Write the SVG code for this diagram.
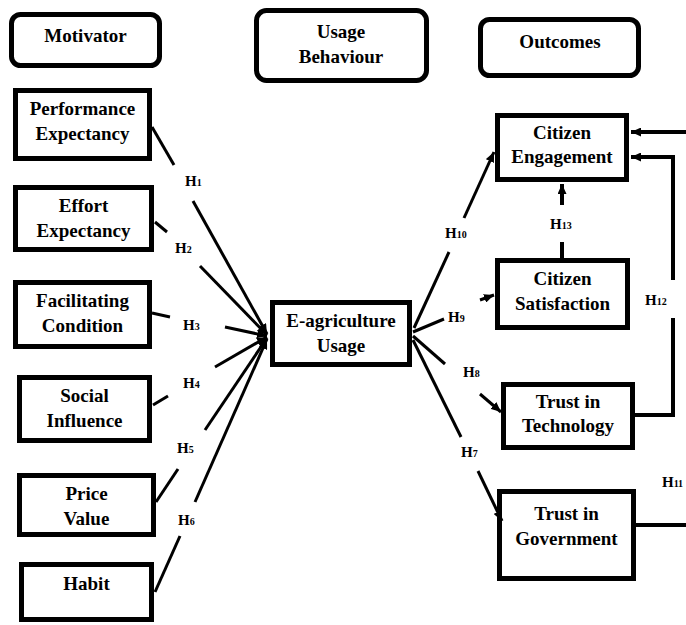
<svg xmlns="http://www.w3.org/2000/svg" width="686" height="625" viewBox="0 0 686 625">
<style>
.box{fill:#fff;stroke:#000;stroke-width:5}
.t{font-family:"Liberation Serif","Times New Roman",serif;font-weight:bold;font-size:19px;text-anchor:middle;fill:#000}
.h{font-family:"Liberation Serif","Times New Roman",serif;font-weight:bold;font-size:15px;fill:#000}
.s{font-size:10px}
.ln{stroke:#000;stroke-width:3;fill:none}
.lt{stroke:#000;stroke-width:4;fill:none}
</style>
<defs>
<marker id="ah" markerUnits="userSpaceOnUse" markerWidth="11" markerHeight="9" refX="10" refY="4.5" orient="auto">
<path d="M0,0 L10,4.5 L0,9 z" fill="#000"/>
</marker>
</defs>
<rect width="686" height="625" fill="#fff"/>

<g id="hdr-motivator"><rect class="box" x="11.5" y="14.5" width="148" height="51" rx="9"/><text class="t" x="85.5" y="42">Motivator</text></g>
<g id="hdr-usage"><rect class="box" x="256.5" y="10.5" width="170" height="70" rx="10"/><text class="t" x="341" y="38">Usage</text><text class="t" x="341" y="63">Behaviour</text></g>
<g id="hdr-outcomes"><rect class="box" x="480.5" y="19.5" width="158" height="56" rx="9"/><text class="t" x="560" y="48">Outcomes</text></g>

<g id="pe"><rect class="box" x="15.5" y="90.5" width="134" height="68"/><text class="t" x="82.5" y="115">Performance</text><text class="t" x="82.5" y="140">Expectancy</text></g>
<g id="ee"><rect class="box" x="15.5" y="187.5" width="136" height="62"/><text class="t" x="83.5" y="212">Effort</text><text class="t" x="83.5" y="237">Expectancy</text></g>
<g id="fc"><rect class="box" x="15.5" y="282.5" width="134" height="64"/><text class="t" x="82.5" y="307">Facilitating</text><text class="t" x="82.5" y="332">Condition</text></g>
<g id="si"><rect class="box" x="19.5" y="377.5" width="130" height="63"/><text class="t" x="84.5" y="402">Social</text><text class="t" x="84.5" y="427">Influence</text></g>
<g id="pv"><rect class="box" x="19.5" y="475.5" width="134" height="59"/><text class="t" x="86.5" y="500">Price</text><text class="t" x="86.5" y="525">Value</text></g>
<g id="habit"><rect class="box" x="21.5" y="564.5" width="130" height="55"/><text class="t" x="86.5" y="590">Habit</text></g>

<g id="eag"><rect class="box" x="272.5" y="302.5" width="137" height="62"/><text class="t" x="341" y="327">E-agriculture</text><text class="t" x="341" y="352">Usage</text></g>

<g id="ce"><rect class="box" x="497.5" y="115.5" width="129" height="64"/><text class="t" x="562" y="139">Citizen</text><text class="t" x="562" y="163">Engagement</text></g>
<g id="cs"><rect class="box" x="497.5" y="260.5" width="130" height="67"/><text class="t" x="562.5" y="285">Citizen</text><text class="t" x="562.5" y="310">Satisfaction</text></g>
<g id="tt"><rect class="box" x="503.5" y="384.5" width="129" height="63"/><text class="t" x="568" y="408">Trust in</text><text class="t" x="568" y="432">Technology</text></g>
<g id="tg"><rect class="box" x="499.5" y="491.5" width="134" height="87"/><text class="t" x="566.5" y="520">Trust in</text><text class="t" x="566.5" y="545">Government</text></g>

<g id="connectors">
<line class="ln" x1="152" y1="127" x2="174" y2="165"/>
<line class="ln" x1="193" y1="201" x2="267" y2="334" marker-end="url(#ah)"/>
<line class="ln" x1="155" y1="222" x2="167" y2="232"/>
<line class="ln" x1="200" y1="266" x2="267" y2="335" marker-end="url(#ah)"/>
<line class="ln" x1="152" y1="313" x2="170" y2="317"/>
<line class="ln" x1="225" y1="327" x2="267" y2="336" marker-end="url(#ah)"/>
<line class="ln" x1="153" y1="405" x2="168" y2="396"/>
<line class="ln" x1="215" y1="367" x2="267" y2="337" marker-end="url(#ah)"/>
<line class="ln" x1="156" y1="502" x2="178" y2="469"/>
<line class="ln" x1="205" y1="430" x2="267" y2="338" marker-end="url(#ah)"/>
<line class="ln" x1="155" y1="592" x2="180" y2="536"/>
<line class="ln" x1="195" y1="502" x2="267" y2="339" marker-end="url(#ah)"/>

<line class="ln" x1="414" y1="328" x2="449" y2="252"/>
<line class="ln" x1="464" y1="218" x2="494" y2="152" marker-end="url(#ah)"/>
<line class="ln" x1="413" y1="332" x2="444" y2="319"/>
<line class="ln" x1="480" y1="300" x2="494" y2="295" marker-end="url(#ah)"/>
<line class="ln" x1="413" y1="336" x2="445" y2="364"/>
<line class="ln" x1="480" y1="394" x2="501" y2="412" marker-end="url(#ah)"/>
<line class="ln" x1="413" y1="340" x2="461" y2="437"/>
<line class="ln" x1="478" y1="471" x2="502" y2="521" marker-end="url(#ah)"/>

<line class="lt" x1="562" y1="258" x2="562" y2="242"/>
<line class="lt" x1="562" y1="205" x2="562" y2="184" marker-end="url(#ah)"/>
<line class="lt" x1="686" y1="132" x2="631" y2="132" marker-end="url(#ah)"/>
<polyline class="lt" points="673,280 673,157 631,157" marker-end="url(#ah)"/>
<polyline class="lt" points="673,318 673,415 635,415"/>
<line class="lt" x1="636" y1="525" x2="686" y2="525"/>
</g>

<g id="labels">
<text class="h" x="185" y="186">H<tspan class="s">1</tspan></text>
<text class="h" x="175" y="253">H<tspan class="s">2</tspan></text>
<text class="h" x="183" y="330">H<tspan class="s">3</tspan></text>
<text class="h" x="183" y="388">H<tspan class="s">4</tspan></text>
<text class="h" x="177" y="453">H<tspan class="s">5</tspan></text>
<text class="h" x="178" y="525">H<tspan class="s">6</tspan></text>
<text class="h" x="445" y="238">H<tspan class="s">10</tspan></text>
<text class="h" x="448" y="322">H<tspan class="s">9</tspan></text>
<text class="h" x="463" y="377">H<tspan class="s">8</tspan></text>
<text class="h" x="461" y="457">H<tspan class="s">7</tspan></text>
<text class="h" x="550" y="229">H<tspan class="s">13</tspan></text>
<text class="h" x="645" y="305">H<tspan class="s">12</tspan></text>
<text class="h" x="662" y="487">H<tspan class="s">11</tspan></text>
</g>
</svg>
